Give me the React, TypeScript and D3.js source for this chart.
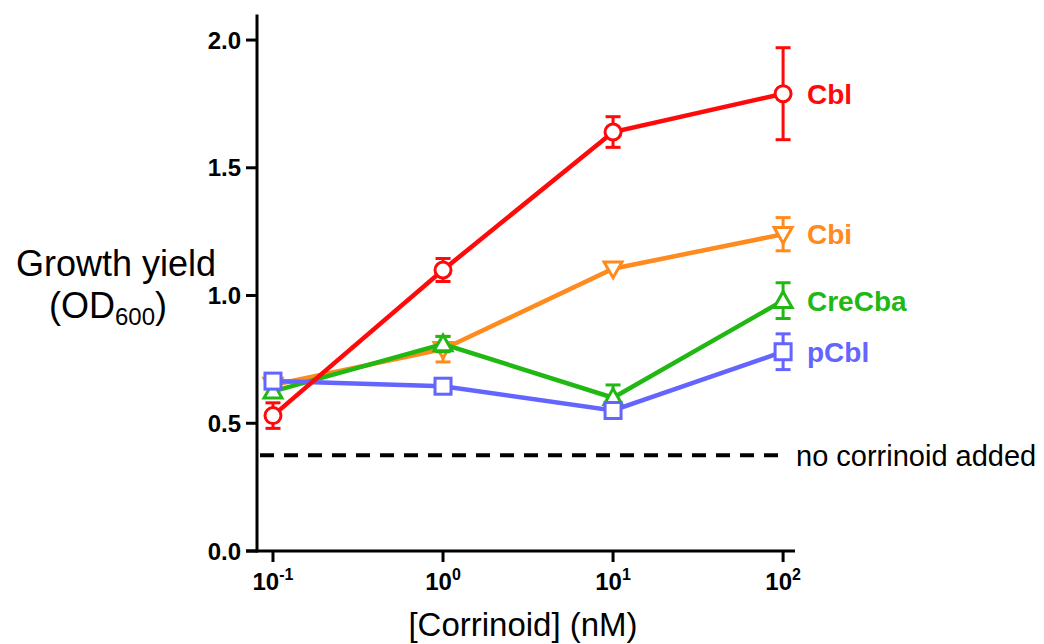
import React from "react";
import * as d3 from "d3";

const concentrations = [0.1, 1, 10, 100];

const cblMean = [0.53, 1.1, 1.64, 1.79];
const cblErr = [0.05, 0.045, 0.06, 0.18];
const cbiMean = [0.65, 0.79, 1.105, 1.24];
const cbiErr = [0.0, 0.05, 0.0, 0.065];
const creCbaMean = [0.625, 0.81, 0.6, 0.98];
const creCbaErr = [0.02, 0.03, 0.05, 0.07];
const pCblMean = [0.665, 0.645, 0.55, 0.78];
const pCblErr = [0.0, 0.0, 0.0, 0.07];

const noCorrinoid = 0.375;

const yTicks = [0, 0.5, 1.0, 1.5, 2.0];
const xTickExponents = [-1, 0, 1, 2];

const series = [
  { name: "Cbi", color: "#FF8A1E", marker: "down", mean: cbiMean, err: cbiErr },
  { name: "CreCba", color: "#22B814", marker: "up", mean: creCbaMean, err: creCbaErr },
  { name: "pCbl", color: "#6464FF", marker: "square", mean: pCblMean, err: pCblErr },
  { name: "Cbl", color: "#FF0A0A", marker: "circle", mean: cblMean, err: cblErr },
];

const font = "'Liberation Sans', Arial, sans-serif";

const Marker = ({ type, x, y, color }) => {
  const sw = 3;
  if (type === "circle") {
    return <circle cx={x} cy={y} r={8} fill="white" stroke={color} strokeWidth={sw} />;
  }
  if (type === "square") {
    return <rect x={x - 8} y={y - 8} width={16} height={16} fill="white" stroke={color} strokeWidth={sw} />;
  }
  const s = 9;
  const pts =
    type === "up"
      ? [[x, y - s], [x + s, y + s * 0.75], [x - s, y + s * 0.75]]
      : [[x, y + s], [x + s, y - s * 0.75], [x - s, y - s * 0.75]];
  return <polygon points={pts.map((p) => p.join(",")).join(" ")} fill="white" stroke={color} strokeWidth={sw} />;
};

export default function App() {
  const x = d3.scaleLog().domain([0.0713, 117.5]).range([248, 795]);
  const y = d3.scaleLinear().domain([0, 2.1]).range([551, 14.5]);
  const line = d3
    .line<number>()
    .x((_, i) => x(concentrations[i]))
    .y((d) => y(d));

  return (
    <svg width={1044} height={644} style={{ position: "absolute", left: 0, top: 0 }} fontFamily={font}>
      {/* axes */}
      <line x1={257} x2={257} y1={y(2.1)} y2={552.5} stroke="black" strokeWidth={3} />
      <line x1={246} x2={795} y1={551} y2={551} stroke="black" strokeWidth={3} />
      {yTicks.map((t) => (
        <g key={t}>
          <line x1={246} x2={257} y1={y(t)} y2={y(t)} stroke="black" strokeWidth={3} />
          <text x={241} y={y(t)} dy="0.36em" textAnchor="end" fontSize={24} fontWeight="bold">
            {t.toFixed(1)}
          </text>
        </g>
      ))}
      {xTickExponents.map((e) => (
        <g key={e}>
          <line x1={x(10 ** e)} x2={x(10 ** e)} y1={551} y2={562} stroke="black" strokeWidth={3} />
          <text x={x(10 ** e)} y={590} textAnchor="middle" fontSize={24} fontWeight="bold">
            10
            <tspan fontSize={16} dy={-10}>{e === -1 ? "-1" : String(e)}</tspan>
          </text>
        </g>
      ))}
      <text x={523} y={636} textAnchor="middle" fontSize={33}>
        [Corrinoid] (nM)
      </text>
      <text x={116} y={276} textAnchor="middle" fontSize={36}>
        Growth yield
      </text>
      <text x={108} y={318} textAnchor="middle" fontSize={36}>
        (OD<tspan fontSize={24} dy={7}>600</tspan>
        <tspan dy={-7}>)</tspan>
      </text>

      {/* baseline without corrinoid */}
      <line
        x1={260}
        x2={780}
        y1={y(noCorrinoid)}
        y2={y(noCorrinoid)}
        stroke="black"
        strokeWidth={4}
        strokeDasharray="14 10"
      />
      <text x={796} y={y(noCorrinoid)} dy="0.36em" fontSize={29}>
        no corrinoid added
      </text>

      {series.map((s) => (
        <g key={s.name}>
          <path d={line(s.mean)} fill="none" stroke={s.color} strokeWidth={4.5} />
          {s.mean.map((m, i) =>
            s.err[i] > 0 ? (
              <g key={i} stroke={s.color} strokeWidth={3}>
                <line x1={x(concentrations[i])} x2={x(concentrations[i])} y1={y(m - s.err[i])} y2={y(m + s.err[i])} />
                <line x1={x(concentrations[i]) - 7.5} x2={x(concentrations[i]) + 7.5} y1={y(m - s.err[i])} y2={y(m - s.err[i])} />
                <line x1={x(concentrations[i]) - 7.5} x2={x(concentrations[i]) + 7.5} y1={y(m + s.err[i])} y2={y(m + s.err[i])} />
              </g>
            ) : null
          )}
          {s.mean.map((m, i) => (
            <Marker key={i} type={s.marker} x={x(concentrations[i])} y={y(m)} color={s.color} />
          ))}
          <text x={807} y={y(s.mean[3])} dy="0.36em" fontSize={28} fontWeight="bold" fill={s.color}>
            {s.name}
          </text>
        </g>
      ))}
    </svg>
  );
}
